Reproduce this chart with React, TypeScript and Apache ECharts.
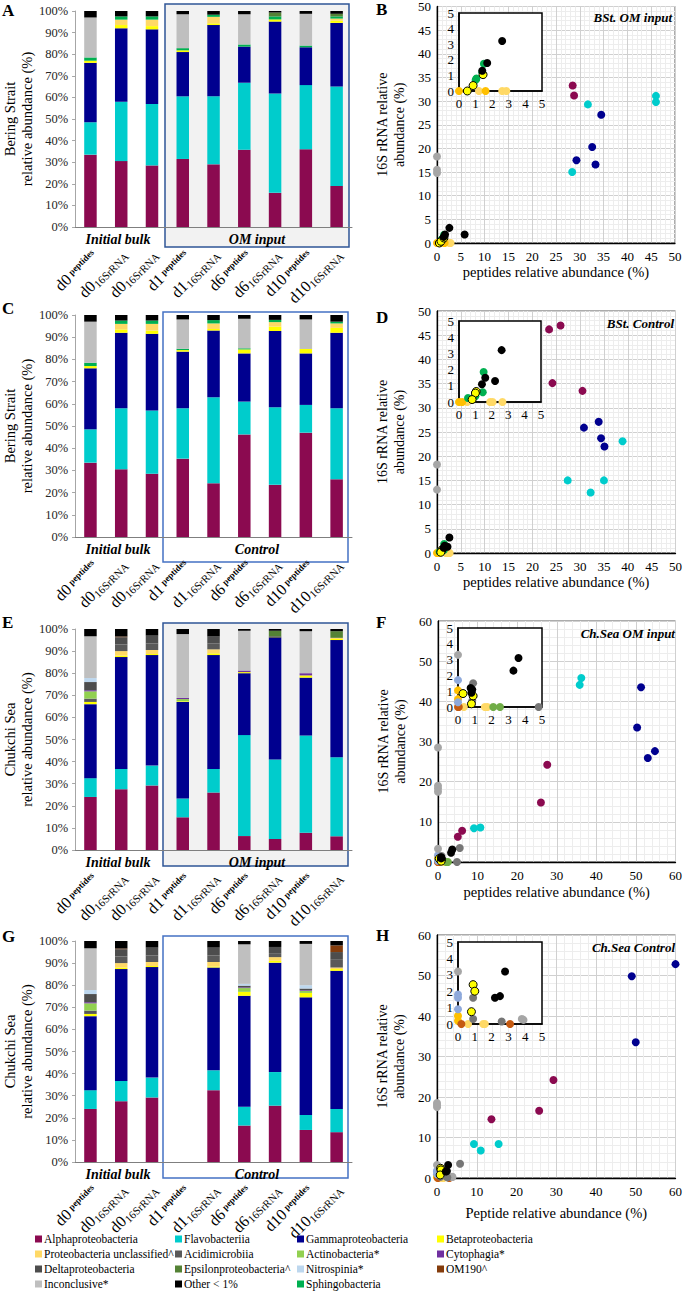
import React, { useEffect, useRef } from "react";
import * as echarts from "echarts";

const FONT = "'Liberation Serif', 'Times New Roman', serif";

// ---------- categories / labels ----------
const categories = ["d0p", "d0r1", "d0r2", "d1p", "d1r", "d6p", "d6r", "d10p", "d10r"];
const catDay = ["d0", "d0", "d0", "d1", "d1", "d6", "d6", "d10", "d10"];
const catKind = ["peptides", "16SrRNA", "16SrRNA", "peptides", "16SrRNA", "peptides", "16SrRNA", "peptides", "16SrRNA"];

// ---------- taxa (legend order) ----------
const taxonKeys = ["alpha", "flavo", "gamma", "beta", "punc", "acidi", "actino", "cyto", "delta", "eps", "nitro", "om190", "inconc", "other", "sphingo"];
const taxonNames = [
  "Alphaproteobacteria", "Flavobacteriia", "Gammaproteobacteria", "Betaproteobacteria",
  "Proteobacteria unclassified^", "Acidimicrobiia", "Actinobacteria*", "Cytophagia*",
  "Deltaproteobacteria", "Epsilonproteobacteria^", "Nitrospinia*", "OM190^",
  "Inconclusive*", "Other < 1%", "Sphingobacteria",
];
const taxonColors = [
  "#8B0A50", "#00CCCC", "#00008F", "#FFFF00",
  "#FFD966", "#595959", "#92D050", "#7030A0",
  "#4D4D4D", "#548235", "#BDD7EE", "#843C0C",
  "#BFBFBF", "#000000", "#00B050",
];
const stackOrder = ["alpha", "flavo", "gamma", "beta", "punc", "sphingo", "acidi", "actino", "cyto", "delta", "eps", "nitro", "om190", "inconc", "other"];

// ---------- bar values (% per bar, bottom to top) ----------
const barsA: Record<string, number[]> = {
  alpha: [33.5, 30.5, 28.5, 31.5, 29, 35.8, 15.8, 36, 19],
  flavo: [15, 27.5, 28.5, 29, 31.5, 31, 46, 29.7, 46],
  gamma: [27.5, 34, 34.5, 20.5, 33, 16.7, 33.3, 17.5, 29.5],
  beta: [1, 1.5, 1.5, 0.8, 0.8, 0, 1, 0, 1],
  punc: [0, 2.5, 3, 0, 3, 0, 0, 0, 1],
  sphingo: [1.5, 1.5, 1.5, 1, 1, 1, 1.4, 0.8, 1],
  eps: [0, 0, 0, 0, 0, 0, 1.8, 0, 1.2],
  inconc: [18.5, 0, 0, 15.7, 0, 14, 0, 14.7, 0],
  other: [3, 2.5, 2.5, 1.5, 1.7, 1.5, 0.7, 1.3, 1.3],
};
const barsC: Record<string, number[]> = {
  alpha: [33.5, 30.5, 28.5, 35.3, 24.2, 46.2, 23.5, 47, 26],
  flavo: [15, 27.5, 28.5, 22.7, 38.8, 14.8, 35, 12.5, 32],
  gamma: [27.5, 34, 34.5, 25.5, 30, 21.7, 34.3, 23.2, 34],
  beta: [1, 1.5, 1.5, 0.7, 0.7, 1.8, 2, 2, 2.2],
  punc: [0, 2.5, 3, 0, 2.5, 0, 2, 0, 2],
  sphingo: [1.5, 1.5, 1.5, 0.6, 1.5, 0.5, 1, 0, 0.8],
  inconc: [18.5, 0, 0, 13.2, 0, 13.3, 0, 13.3, 0],
  other: [3, 2.5, 2.5, 2, 2.3, 1.7, 2.2, 2, 3],
};
const barsE: Record<string, number[]> = {
  alpha: [24, 27.5, 29.2, 14.8, 26, 6.3, 5, 7.8, 6.2],
  flavo: [8.5, 9.2, 9, 8.5, 10.7, 45.7, 36, 44, 35.8],
  gamma: [33.5, 50.6, 50, 43.7, 51.5, 28, 55, 26.2, 53],
  beta: [1, 0.7, 0.5, 0.3, 0.8, 0.5, 0, 1, 0.5],
  punc: [0, 2, 1.8, 0, 1.8, 0, 0, 0, 0.5],
  acidi: [1.5, 3, 3, 0, 2.7, 0, 0, 0, 0],
  actino: [3.3, 0, 0, 1, 0, 0, 0, 0, 0],
  cyto: [0.5, 0, 0, 0.5, 0, 0.7, 0, 1, 0],
  delta: [3.7, 3.3, 3.5, 0, 3.1, 0, 0.7, 0, 0],
  eps: [0, 0, 0, 0, 0, 0, 2.5, 0, 3],
  nitro: [1.8, 0, 0, 0, 0, 0, 0, 0, 0],
  om190: [0, 0.3, 0, 0, 0, 0, 0, 0, 0],
  inconc: [18.9, 0, 0, 28.9, 0, 18, 0, 19, 0],
  other: [3.3, 3.4, 3, 2.3, 3.4, 0.8, 0.8, 1, 1],
};
const barsG: Record<string, (number | null)[]> = {
  alpha: [24, 27.5, 29.2, null, 32.5, 16.5, 25.5, 14.5, 13.5],
  flavo: [8.5, 9.2, 9, null, 9, 8.5, 15.2, 6.8, 10.5],
  gamma: [33.5, 50.6, 50, null, 46.5, 50.2, 49.5, 53.2, 62.5],
  beta: [1, 0.7, 0.5, null, 0.5, 1.8, 0.8, 2, 0.8],
  punc: [0, 2, 1.8, null, 2, 0, 1.7, 0, 0.7],
  acidi: [1.5, 3, 3, null, 3, 0, 1.8, 0, 3.5],
  actino: [3.3, 0, 0, null, 0, 1.7, 0, 1, 0],
  cyto: [0.5, 0, 0, null, 0, 0.3, 0, 0.3, 0],
  delta: [3.7, 3.3, 3.5, null, 3.5, 0.8, 2.8, 0.7, 3.5],
  nitro: [1.8, 0, 0, null, 0, 0.8, 0, 1.5, 0],
  om190: [0, 0.3, 0, null, 0, 0, 0, 0, 3],
  inconc: [18.9, 0, 0, null, 0, 17.9, 0, 18.7, 0],
  other: [3.3, 3.4, 3, null, 3, 1.5, 2.7, 1.3, 2],
};

// ---------- scatter values [peptides %, 16S rRNA %] ----------
const scatterKeys = ["punc", "orange", "om190", "nitro", "inconc", "darkgray", "actino", "sphingo", "beta", "other", "alpha", "flavo", "gamma"];
const scatterColors = ["#FFD966", "#FFC000", "#C55A11", "#8EA9DB", "#A6A6A6", "#767676", "#70AD47", "#00B050", "#FFFF00", "#000000", "#8B0A50", "#00CCCC", "#00008F"];

const scatterB: Record<string, number[][]> = {
  alpha: [[28.5, 33.3], [28.8, 31.2]],
  flavo: [[31.7, 29.3], [46, 31.1], [46, 29.8], [28.4, 15]],
  gamma: [[34.5, 27.1], [32.6, 20.3], [29.3, 17.5], [33.3, 16.6]],
  inconc: [[0, 18.3], [0, 15.5], [0, 14.8]],
  other: [[2.6, 3.2], [5.8, 1.8], [1.7, 1.8], [1.4, 1.3]],
  sphingo: [[1.5, 1.75], [1.4, 1.2], [1.05, 0.8], [1.0, 0.7]],
  beta: [[0.5, 0], [0.85, 0.35], [1.45, 1.05]],
  punc: [[1.2, 0], [2.6, 0], [2.85, 0]],
  orange: [[0, 0], [1.6, 0]],
};
const scatterD: Record<string, number[][]> = {
  alpha: [[23.5, 46.2], [25.9, 47], [24.2, 35.1], [30.5, 33.5]],
  gamma: [[33.9, 27.1], [30.8, 25.9], [34.4, 23.7], [35.1, 22]],
  flavo: [[38.9, 23.1], [27.4, 15], [35, 15], [32.2, 12.5]],
  inconc: [[0, 18.3], [0, 13.1]],
  other: [[2.6, 3.2], [1.6, 1.5], [1.4, 1.1], [2.2, 1.3]],
  sphingo: [[1.5, 1.85], [1.45, 0.6], [1.0, 0.35], [0.55, 0.25]],
  beta: [[1.05, 0.65], [1.0, 0.55], [0.8, 0.15]],
  punc: [[1.9, 0], [2.05, 0], [2.65, 0], [0.5, 0]],
  orange: [[0, 0], [0.2, 0]],
};
const scatterF: Record<string, number[][]> = {
  flavo: [[35.8, 44.1], [36.2, 45.8], [9.1, 8.4], [10.7, 8.6]],
  gamma: [[51.3, 43.5], [50.3, 33.5], [53, 25.9], [54.8, 27.6]],
  alpha: [[27.6, 24.2], [26, 14.8], [6.1, 7.8], [5, 6.3]],
  inconc: [[0, 28.5], [0, 19], [0, 18.3], [0, 17.5], [0, 3.3]],
  darkgray: [[5.5, 3.5], [4.8, 0], [0.9, 1.5], [0.85, 0.4]],
  other: [[3.6, 3.1], [3.3, 2.3], [0.85, 1.1], [0.8, 0.9], [0.75, 1.2]],
  nitro: [[0, 1.7], [0, 0.3]],
  orange: [[0, 1.05], [0, 0.5]],
  om190: [[0, 0], [0.05, 0]],
  beta: [[0.3, 0.85], [0.9, 0.7], [0.8, 0.2]],
  punc: [[0.35, 0], [1.6, 0], [1.75, 0]],
  actino: [[2.1, 0], [2.5, 0]],
};
const scatterH: Record<string, number[][]> = {
  gamma: [[60, 52.8], [49, 49.8], [50, 33.5]],
  alpha: [[29.3, 24.2], [25.7, 16.6], [13.7, 14.5]],
  flavo: [[9.3, 8.4], [11, 6.8], [15.5, 8.4]],
  inconc: [[0, 18.5], [0, 17.5], [0, 18], [0, 3.2], [3.9, 0.25], [3.8, 0.3]],
  darkgray: [[5.8, 3.5], [0.9, 1.6], [2.6, 0.15], [0.9, 0.3]],
  other: [[2.8, 3.2], [2.2, 1.6], [2.5, 1.7]],
  beta: [[0.9, 2.4], [1.0, 2.0], [0.8, 0.75]],
  nitro: [[0, 1.8], [0, 1.6], [0, 0.9]],
  orange: [[0, 0.5], [0, 0.2]],
  om190: [[0.2, 0], [3.1, 0]],
  punc: [[0.6, 0], [1.5, 0], [1.6, 0]],
};

// ---------- layout ----------
const barPanels = [
  { data: barsA, left: 67, top: 11, w: 285, h: 216, yName: "Bering Strait\nrelative abundance (%)", letter: "A", letterY: 10, groupName: "OM input", shaded: true, box: [165, 4, 184, 243] },
  { data: barsC, left: 67, top: 315, w: 285, h: 222, yName: "Bering Strait\nrelative abundance (%)", letter: "C", letterY: 308, groupName: "Control", shaded: false, box: [163, 312, 185, 250] },
  { data: barsE, left: 67, top: 629, w: 285, h: 221, yName: "Chukchi Sea\nrelative abundance (%)", letter: "E", letterY: 622, groupName: "OM input", shaded: true, box: [163, 623, 185, 243] },
  { data: barsG, left: 67, top: 941, w: 285, h: 221, yName: "Chukchi Sea\nrelative abundance (%)", letter: "G", letterY: 936, groupName: "Control", shaded: false, box: [163, 936, 185, 242] },
];
const scatterPanels = [
  { data: scatterB, left: 437, top: 5, w: 238, h: 238, max: 50, step: 5, xName: "peptides relative abundance (%)", xGap: 21, title: "BSt. OM input", letter: "B", letterY: 9, inset: [459, 13, 83, 78] },
  { data: scatterD, left: 437, top: 311, w: 240, h: 242, max: 50, step: 5, xName: "peptides relative abundance (%)", xGap: 21, title: "BSt. Control", letter: "D", letterY: 317, inset: [459, 321, 82, 81] },
  { data: scatterF, left: 438, top: 621, w: 240, h: 241, max: 60, step: 10, xName: "peptides relative abundance (%)", xGap: 22, title: "Ch.Sea OM input", letter: "F", letterY: 622, inset: [458, 628, 84, 79] },
  { data: scatterH, left: 437, top: 935, w: 241, h: 243, max: 60, step: 10, xName: "Peptide relative abundance (%)", xGap: 27, title: "Ch.Sea Control", letter: "H", letterY: 935, inset: [458, 942, 84, 82] },
];

const DAY_FONT = `16px ${FONT}`;
const PEP_FONT = `bold 9px ${FONT}`;
const RNA_FONT = `11px ${FONT}`;

function buildOption() {
  const grid: any[] = [];
  const xAxis: any[] = [];
  const yAxis: any[] = [];
  const series: any[] = [];
  const graphic: any[] = [];

  barPanels.forEach((p, i) => {
    const [bx, by, bw, bh] = p.box;
    graphic.push({
      type: "rect", z: -10, shape: { x: bx, y: by, width: bw, height: bh },
      style: { fill: p.shaded ? "#F2F2F2" : "rgba(0,0,0,0)", stroke: p.shaded ? "#2F5597" : "#4472C4", lineWidth: 1.5 },
    });
    const axisY = p.top + p.h;
    graphic.push({ type: "text", x: 118, y: axisY + 12, style: { text: "Initial bulk", font: `bold italic 14px ${FONT}`, fill: "#000", textAlign: "center", textVerticalAlign: "middle" } });
    graphic.push({ type: "text", x: 257, y: axisY + 12, style: { text: p.groupName, font: `bold italic 14px ${FONT}`, fill: "#000", textAlign: "center", textVerticalAlign: "middle" } });
    graphic.push({ type: "text", x: 2, y: p.letterY, style: { text: p.letter, font: `bold 17px ${FONT}`, fill: "#000", textAlign: "left", textVerticalAlign: "middle" } });

    grid.push({ left: p.left, top: p.top, width: p.w, height: p.h });
    xAxis.push({
      type: "category", gridIndex: i, data: categories,
      axisTick: { show: false },
      axisLine: { lineStyle: { color: "#7F7F7F", width: 1 } },
      axisLabel: { show: false },
    });
    yAxis.push({
      type: "value", gridIndex: i, min: 0, max: 100, interval: 10,
      axisLabel: { formatter: "{value}%", fontSize: 12.5, color: "#262626", fontFamily: FONT, margin: 7 },
      axisLine: { show: true, lineStyle: { color: "#A6A6A6" } },
      axisTick: { show: true, length: 3, lineStyle: { color: "#A6A6A6" } },
      splitLine: { show: false },
      name: p.yName, nameLocation: "middle", nameRotate: 90, nameGap: 33,
      nameTextStyle: { fontSize: 14.5, lineHeight: 17, color: "#000", fontFamily: FONT },
    });
    stackOrder.forEach((k) => {
      const vals = p.data[k];
      if (!vals) return;
      const ti = taxonKeys.indexOf(k);
      series.push({
        type: "bar", name: taxonNames[ti], stack: "s" + i, xAxisIndex: i, yAxisIndex: i,
        data: vals, barWidth: 12.5, itemStyle: { color: taxonColors[ti] },
      });
    });
  });

  scatterPanels.forEach((p, j) => {
    const gi = 4 + j;
    grid.push({ left: p.left, top: p.top, width: p.w, height: p.h, show: true, borderColor: "#595959", borderWidth: 1, backgroundColor: "#fff" });
    const common = (isX: boolean) => ({
      type: "value", gridIndex: gi, min: 0, max: p.max, interval: p.step,
      axisLine: { show: true, onZero: false, lineStyle: { color: "#000", width: 1.3 } },
      axisTick: { show: false },
      minorTick: { show: false, splitNumber: 5 },
      splitLine: { show: true, lineStyle: { color: "#D0D0D0", width: 1 } },
      minorSplitLine: { show: true, lineStyle: { color: "#EDEDED", width: 1 } },
      axisLabel: { fontSize: 13, color: "#000", fontFamily: FONT, margin: isX ? 7 : 6 },
    });
    xAxis.push({
      ...common(true),
      name: p.xName, nameLocation: "middle", nameGap: p.xGap,
      nameTextStyle: { fontSize: 14.5, color: "#000", fontFamily: FONT },
    });
    yAxis.push({
      ...common(false),
      name: "16S rRNA relative\nabundance (%)", nameLocation: "middle", nameRotate: 90, nameGap: 29,
      nameTextStyle: { fontSize: 14, lineHeight: 17, color: "#000", fontFamily: FONT },
    });
    graphic.push({ type: "text", x: p.left + p.w - 3, y: p.top + 12, z: 10, style: { text: p.title, font: `bold italic 13px ${FONT}`, fill: "#000", textAlign: "right", textVerticalAlign: "middle" } });
    graphic.push({ type: "text", x: 376, y: p.letterY, style: { text: p.letter, font: `bold 17px ${FONT}`, fill: "#000", textAlign: "left", textVerticalAlign: "middle" } });
  });

  scatterPanels.forEach((p, j) => {
    const gi = 8 + j;
    const [ix, iy, iw, ih] = p.inset;
    grid.push({ left: ix, top: iy, width: iw, height: ih, show: true, borderColor: "#000", borderWidth: 1.5, backgroundColor: "#fff", z: 5 });
    const common = (isX: boolean) => ({
      type: "value", gridIndex: gi, min: 0, max: 5, interval: 1, z: 5,
      axisLine: { show: true, onZero: false, lineStyle: { color: "#000", width: 1.5 } },
      axisTick: { show: false },
      splitLine: { show: false },
      axisLabel: { fontSize: 13, color: "#000", fontFamily: FONT, margin: isX ? 6 : 5 },
    });
    xAxis.push(common(true));
    yAxis.push(common(false));
  });

  scatterPanels.forEach((p, j) => {
    scatterKeys.forEach((k, ci) => {
      const pts = p.data[k];
      if (!pts) return;
      const style: any = { color: scatterColors[ci], opacity: 1 };
      if (k === "beta") { style.borderColor = "#000"; style.borderWidth = 1; }
      series.push({ type: "scatter", name: k, xAxisIndex: 4 + j, yAxisIndex: 4 + j, data: pts, symbolSize: 8, itemStyle: style, z: 3 });
      series.push({ type: "scatter", name: k, xAxisIndex: 8 + j, yAxisIndex: 8 + j, data: pts, symbolSize: 8, itemStyle: style, z: 7, clip: true });
    });
  });

  const colX = [35, 175, 297, 437];
  const rowY = [1239, 1254, 1269, 1284];
  taxonNames.forEach((name, i) => {
    const c = i % 4;
    const r = Math.floor(i / 4);
    graphic.push({ type: "rect", shape: { x: colX[c], y: rowY[r] - 3.5, width: 7, height: 7 }, style: { fill: taxonColors[i] } });
    graphic.push({ type: "text", x: colX[c] + 9, y: rowY[r], style: { text: name, font: `11.5px ${FONT}`, fill: "#000", textAlign: "left", textVerticalAlign: "middle" } });
  });

  return {
    animation: false,
    backgroundColor: "#fff",
    textStyle: { fontFamily: FONT },
    grid, xAxis, yAxis, series, graphic,
  };
}

function measure(text: string, font: string): number {
  const ctx = document.createElement("canvas").getContext("2d");
  if (!ctx) return text.length * 5;
  ctx.font = font;
  return ctx.measureText(text).width;
}

export default function App() {
  const ref = useRef<HTMLDivElement>(null);
  useEffect(() => {
    if (!ref.current) return;
    const chart = echarts.init(ref.current, undefined, { renderer: "svg" });
    const option: any = buildOption();
    chart.setOption(option);
    // rotated category labels, placed with the library's own axis scales
    const labels: any[] = [];
    barPanels.forEach((_p, i) => {
      const y0 = chart.convertToPixel({ yAxisIndex: i } as any, 0) as unknown as number;
      categories.forEach((c, idx) => {
        const x = chart.convertToPixel({ xAxisIndex: i } as any, c) as unknown as number;
        const isPep = catKind[idx] === "peptides";
        const subFont = isPep ? PEP_FONT : RNA_FONT;
        const wSub = measure(catKind[idx], subFont);
        labels.push({
          type: "group", x: x + 3, y: y0 + 25, rotation: Math.PI / 4,
          children: [
            { type: "text", x: -wSub - (isPep ? 3 : 0.5), y: 0, style: { text: catDay[idx], font: DAY_FONT, fill: "#000", textAlign: "right", textVerticalAlign: "middle" } },
            { type: "text", x: 0, y: isPep ? -1.5 : 3.5, style: { text: catKind[idx], font: subFont, fill: "#000", textAlign: "right", textVerticalAlign: "middle" } },
          ],
        });
      });
    });
    chart.setOption({ graphic: [...option.graphic, ...labels] });
    return () => chart.dispose();
  }, []);
  return <div ref={ref} style={{ position: "absolute", left: 0, top: 0, width: 685, height: 1291, background: "#fff" }} />;
}
